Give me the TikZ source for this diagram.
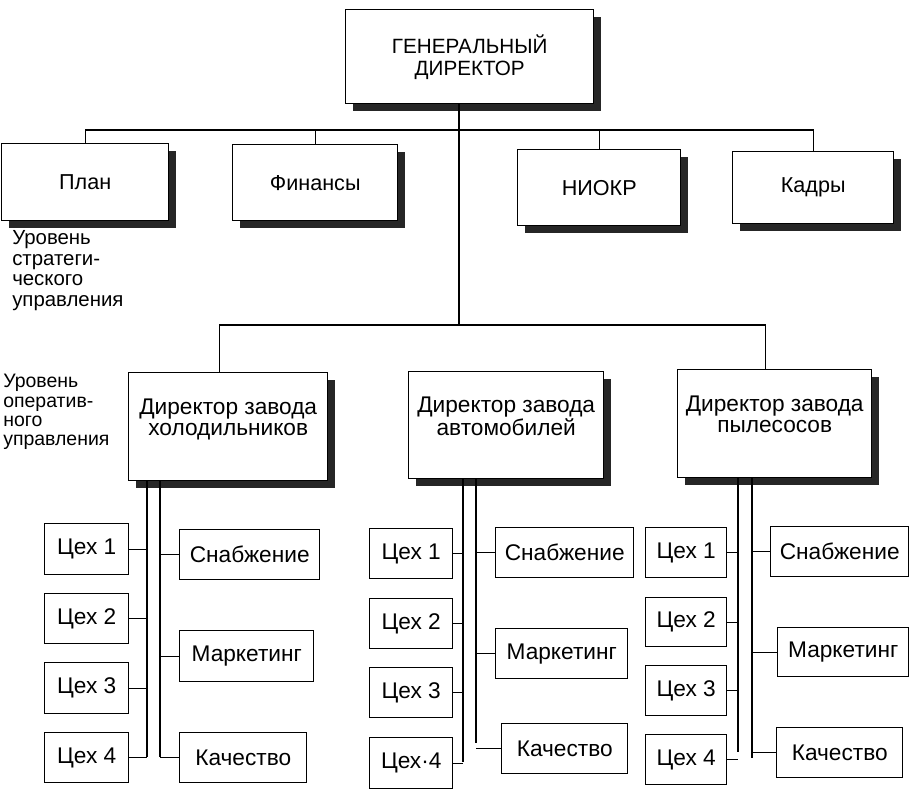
\documentclass[tikz,border=0pt]{standalone}
\usepackage{fontspec}
\setmainfont{Liberation Sans}
\usetikzlibrary{positioning,calc,shadows}

\begin{document}
\begin{tikzpicture}[x=0.75pt,y=-0.75pt,
    size/.style 2 args={minimum width=#1*0.75pt,minimum height=#2*0.75pt},
    topbox/.style={draw,fill=white,anchor=north west,align=center,line width=1.1pt,
        font=\fontsize{16.2}{16.5}\selectfont,
        drop shadow={shadow xshift=5.5pt,shadow yshift=-5.5pt,fill=black!85,opacity=1}},
    dirbox/.style={topbox,font=\fontsize{17}{15.5}\selectfont,text depth=14pt},
    unit/.style={draw,fill=white,anchor=north west,line width=1.1pt,font=\fontsize{17}{15}\selectfont},
    level/.style={anchor=north west,align=left,inner sep=0pt,font=\fontsize{15.3}{15.6}\selectfont},
    link/.style={line width=1.1pt}
]
    \useasboundingbox (0,0) rectangle (913,789);

    % strategic level
    \node[topbox,size={248}{94},font=\fontsize{15.5}{16.5}\selectfont] (gen) at (345,9) {ГЕНЕРАЛЬНЫЙ\\ДИРЕКТОР};
    \node[topbox,size={167}{77}] (plan) at (1,143) {План};
    \node[topbox,size={165}{76}] (fin) at (232,144) {Финансы};
    \node[topbox,size={163}{76}] (niokr) at (517,149) {НИОКР};
    \node[topbox,size={161}{72}] (kadry) at (732,151) {Кадры};
    \node[level] (strat) at (12,230) {Уровень\\стратеги-\\ческого\\управления};

    % operational level
    \node[dirbox,size={199}{108}] (dir1) at (128,372) {Директор завода\\холодильников};
    \node[dirbox,size={195}{107}] (dir2) at (408,371) {Директор завода\\автомобилей};
    \node[dirbox,size={194}{108}] (dir3) at (677,369) {Директор завода\\пылесосов};
    \node[level,font=\fontsize{14.6}{14.5}\selectfont] (oper) at (3,374) {Уровень\\оператив-\\ного\\управления};

    \node[unit,size={84}{51}] (c11) at (44,523) {Цех 1};
    \node[unit,size={84}{50}] (c12) at (44,593) {Цех 2};
    \node[unit,size={84}{51}] (c13) at (44,662) {Цех 3};
    \node[unit,size={84}{50}] (c14) at (44,732) {Цех 4};
    \node[unit,size={140}{50}] (snab1) at (179,529) {Снабжение};
    \node[unit,size={134}{51}] (mark1) at (179,630) {Маркетинг};
    \node[unit,size={127}{50}] (kach1) at (179,732) {Качество};

    \node[unit,size={83}{50}] (c21) at (369,528) {Цех 1};
    \node[unit,size={83}{50}] (c22) at (369,598) {Цех 2};
    \node[unit,size={83}{50}] (c23) at (369,667) {Цех 3};
    \node[unit,size={83}{51}] (c24) at (369,737) {Цех·4};
    \node[unit,size={138}{50}] (snab2) at (495,527) {Снабжение};
    \node[unit,size={132}{50}] (mark2) at (495,628) {Маркетинг};
    \node[unit,size={126}{50}] (kach2) at (501,723) {Качество};

    \node[unit,size={81}{50}] (c31) at (645,527) {Цех 1};
    \node[unit,size={81}{49}] (c32) at (645,597) {Цех 2};
    \node[unit,size={81}{50}] (c33) at (645,665) {Цех 3};
    \node[unit,size={81}{50}] (c34) at (645,734) {Цех 4};
    \node[unit,size={138}{50}] (snab3) at (770,526) {Снабжение};
    \node[unit,size={131}{49}] (mark3) at (777,627) {Маркетинг};
    \node[unit,size={126}{50}] (kach3) at (776,727) {Качество};

    % buses and spines
    \coordinate (bus) at (459,130);
    \coordinate (trunk) at (459,325);
    \coordinate (l1) at (147,757);
    \coordinate (r1) at (160,757);
    \coordinate (l2) at (463,762);
    \coordinate (r2) at (476,743);
    \coordinate (l3) at (738,752);
    \coordinate (r3) at (752,758);

    \draw[link] (gen.south -| bus) -- (trunk);
    \draw[link] (plan.north) |- (bus) -| (kadry.north);
    \draw[link] (fin.north) -- (fin.north |- bus);
    \draw[link] (niokr.north) -- (niokr.north |- bus);
    \draw[link] ($(dir1.north)+(-9,0)$) |- (trunk) -| ($(dir3.north)+(-9,0)$);
    \draw[link] ($(dir2.north)+(9,0)$) -- ($(dir2.north)+(9,0)$ |- trunk);

    \draw[link] (dir1.south -| l1) -- (l1);
    \draw[link] (dir1.south -| r1) -- (r1);
    \draw[link] (dir2.south -| l2) -- (l2);
    \draw[link] (dir2.south -| r2) -- (r2);
    \draw[link] (dir3.south -| l3) -- (l3);
    \draw[link] (dir3.south -| r3) -- (r3);

    \draw[link] (c11) -- (c11 -| l1);
    \draw[link] (c12) -- (c12 -| l1);
    \draw[link] (c13) -- (c13 -| l1);
    \draw[link] (c14) -- (c14 -| l1);
    \draw[link] (snab1) -- (snab1 -| r1);
    \draw[link] (mark1) -- (mark1 -| r1);
    \draw[link] (kach1) -- (kach1 -| r1);

    \draw[link] (c21) -- (c21 -| l2);
    \draw[link] (c22) -- (c22 -| l2);
    \draw[link] (c23) -- (c23 -| l2);
    \draw[link] (c24) -- (c24 -| l2);
    \draw[link] (snab2) -- (snab2 -| r2);
    \draw[link] (mark2) -- (mark2 -| r2);
    \draw[link] (kach2) -- (kach2 -| r2);

    \draw[link] (c31) -- (c31 -| l3);
    \draw[link] (c32) -- (c32 -| l3);
    \draw[link] (c33) -- (c33 -| l3);
    \draw[link] (c34) -- (c34 -| l3);
    \draw[link] (snab3) -- (snab3 -| r3);
    \draw[link] (mark3) -- (mark3 -| r3);
    \draw[link] (kach3) -- (kach3 -| r3);
\end{tikzpicture}
\end{document}
